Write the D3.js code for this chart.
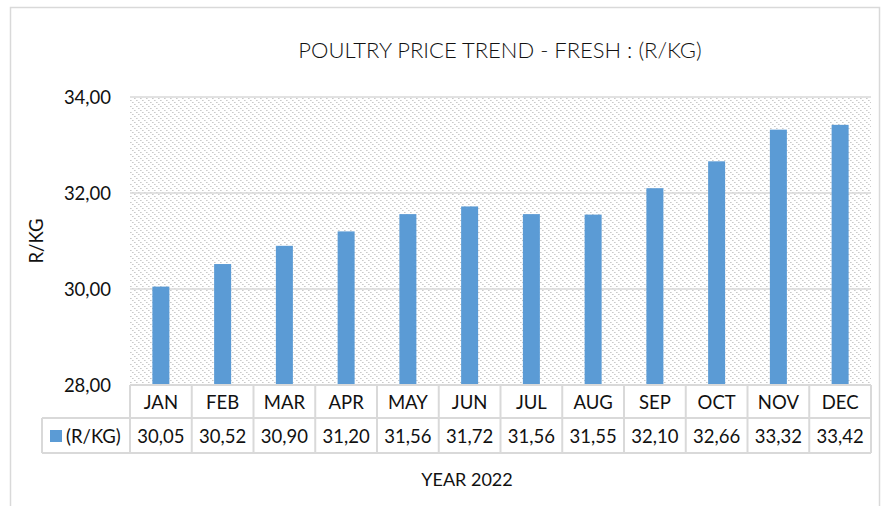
<!DOCTYPE html>
<html>
<head>
<meta charset="utf-8">
<script src="https://cdn.jsdelivr.net/npm/d3@7"></script>
<style>
  body { margin: 0; background: #fff; }
  svg text { font-family: Lato, "Open Sans", sans-serif; fill: #111; }
</style>
</head>
<body>
<svg id="chart"></svg>
<script>
// data
var months = ["JAN", "FEB", "MAR", "APR", "MAY", "JUN", "JUL", "AUG", "SEP", "OCT", "NOV", "DEC"];
var prices = [30.05, 30.52, 30.90, 31.20, 31.56, 31.72, 31.56, 31.55, 32.10, 32.66, 33.32, 33.42];
var yTicks = [28, 30, 32, 34];
var seriesName = "(R/KG)";

var width = 887,
    height = 506;

var plot = { left: 130, right: 871, top: 97, bottom: 385 };
var row1 = 418, row2 = 453, legendLeft = 42;
var lineColor = "#d9d9d9";
var barColor = "#5b9bd5";
var fs = "18.5px";

var svg = d3.select("#chart")
    .attr("width", width)
    .attr("height", height);

// hatch pattern for plot background
var defs = svg.append("defs");
var pat = defs.append("pattern")
    .attr("id", "hatch")
    .attr("patternUnits", "userSpaceOnUse")
    .attr("width", 6)
    .attr("height", 6);
pat.append("rect").attr("width", 6).attr("height", 6).attr("fill", "#fff");
[0, 2, 4].forEach(function (i) {
    pat.append("rect").attr("x", i).attr("y", i).attr("width", 1).attr("height", 1).attr("fill", "#cacaca");
    pat.append("rect").attr("x", (i + 1) % 6).attr("y", i).attr("width", 1).attr("height", 1).attr("fill", "#dedede");
});

// outer chart border
svg.append("rect")
    .attr("x", 10.5)
    .attr("y", 7.5)
    .attr("width", 869)
    .attr("height", 520)
    .attr("fill", "#fff")
    .attr("stroke", lineColor)
    .attr("stroke-width", 1.5);

var x = d3.scaleBand()
    .domain(months)
    .range([plot.left, plot.right])
    .padding(0);

var y = d3.scaleLinear()
    .domain([28, 34])
    .range([plot.bottom, plot.top]);

svg.append("rect")
    .attr("x", plot.left)
    .attr("y", plot.top)
    .attr("width", plot.right - plot.left)
    .attr("height", plot.bottom - plot.top)
    .attr("fill", "url(#hatch)");

// gridlines
svg.append("g")
    .selectAll("line")
    .data(yTicks.filter(function (d) { return d > 28; }))
    .enter().append("line")
    .attr("x1", plot.left)
    .attr("x2", plot.right)
    .attr("y1", function (d) { return y(d); })
    .attr("y2", function (d) { return y(d); })
    .attr("stroke", lineColor)
    .attr("stroke-width", 1.5);

// y tick labels
svg.append("g")
    .selectAll("text")
    .data(yTicks)
    .enter().append("text")
    .attr("x", 111)
    .attr("y", function (d) { return y(d) + 6.5; })
    .attr("text-anchor", "end")
    .style("font-size", fs)
    .text(function (d) { return d3.format(".2f")(d).replace(".", ","); });

// bars
var barW = 17;
svg.append("g")
    .selectAll("rect")
    .data(prices)
    .enter().append("rect")
    .attr("x", function (d, i) { return x(months[i]) + x.bandwidth() / 2 - barW / 2; })
    .attr("y", function (d) { return y(d); })
    .attr("width", barW)
    .attr("height", function (d) { return y(28) - y(d); })
    .attr("fill", barColor);

// data table
var table = svg.append("g")
    .attr("stroke", lineColor)
    .attr("stroke-width", 2)
    .attr("fill", "none");

table.append("line").attr("x1", plot.left).attr("x2", plot.right).attr("y1", plot.bottom).attr("y2", plot.bottom);
table.append("line").attr("x1", legendLeft).attr("x2", plot.right).attr("y1", row1).attr("y2", row1);
table.append("line").attr("x1", legendLeft).attr("x2", plot.right).attr("y1", row2).attr("y2", row2);
table.append("line").attr("x1", legendLeft).attr("x2", legendLeft).attr("y1", row1).attr("y2", row2);
table.selectAll(".col")
    .data(months.concat(["end"]))
    .enter().append("line")
    .attr("class", "col")
    .attr("x1", function (d) { return d === "end" ? plot.right : x(d); })
    .attr("x2", function (d) { return d === "end" ? plot.right : x(d); })
    .attr("y1", plot.bottom)
    .attr("y2", row2);

svg.append("g")
    .selectAll("text")
    .data(months)
    .enter().append("text")
    .attr("x", function (d) { return x(d) + x.bandwidth() / 2; })
    .attr("y", 408.5)
    .attr("text-anchor", "middle")
    .style("font-size", fs)
    .text(function (d) { return d; });

svg.append("g")
    .selectAll("text")
    .data(prices)
    .enter().append("text")
    .attr("x", function (d, i) { return x(months[i]) + x.bandwidth() / 2; })
    .attr("y", 442.5)
    .attr("text-anchor", "middle")
    .style("font-size", fs)
    .text(function (d) { return d3.format(".2f")(d).replace(".", ","); });

// legend key
svg.append("rect")
    .attr("x", 50)
    .attr("y", 430)
    .attr("width", 12)
    .attr("height", 12)
    .attr("fill", barColor);
svg.append("text")
    .attr("x", 66)
    .attr("y", 442.5)
    .style("font-size", fs)
    .text(seriesName);

// titles
svg.append("text")
    .attr("x", 500)
    .attr("y", 58)
    .attr("text-anchor", "middle")
    .style("font-size", "22px")
    .style("font-weight", 300)
    .text("POULTRY PRICE TREND - FRESH : (R/KG)");

svg.append("text")
    .attr("transform", "translate(43," + ((plot.top + plot.bottom) / 2) + ") rotate(-90)")
    .attr("text-anchor", "middle")
    .style("font-size", fs)
    .text("R/KG");

svg.append("text")
    .attr("x", 467)
    .attr("y", 486)
    .attr("text-anchor", "middle")
    .style("font-size", "18px")
    .text("YEAR 2022");
</script>
</body>
</html>
